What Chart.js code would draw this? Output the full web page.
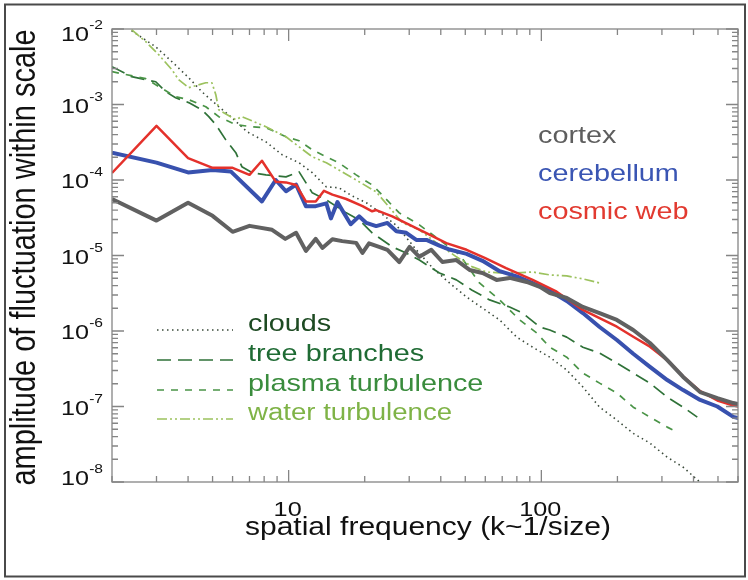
<!DOCTYPE html>
<html><head><meta charset="utf-8">
<script src="https://cdn.jsdelivr.net/npm/chart.js@4/dist/chart.umd.min.js"></script>
<style>html,body{margin:0;padding:0;background:#fff}canvas{display:block}</style>
</head><body>
<canvas id="c" width="748" height="580"></canvas>
<script>
// ---- data (spatial frequency k, amplitude) ----
const kCortex = [2, 3, 4, 5, 6, 7, 8.6, 9.7, 10.7, 11.7, 12.8, 13.6, 14.9, 16.3, 18.5, 19.6, 20.8, 22.8, 24.6, 27.4, 30.1, 32.9, 36.7, 40.6, 46.1, 52, 58.5, 66.5, 74.9, 87.5, 98.6, 108, 126, 146, 170, 199, 231, 269, 315, 364, 425, 497, 575, 602];
const aCortex = [5.6e-5, 2.9e-5, 5.0e-5, 3.35e-5, 2.06e-5, 2.47e-5, 2.19e-5, 1.66e-5, 2.0e-5, 1.15e-5, 1.66e-5, 1.26e-5, 1.64e-5, 1.55e-5, 1.47e-5, 1.08e-5, 1.45e-5, 1.3e-5, 1.19e-5, 8.2e-6, 1.3e-5, 9.6e-6, 1.19e-5, 8.2e-6, 8.7e-6, 6.44e-6, 5.87e-6, 4.75e-6, 5.05e-6, 4.46e-6, 3.84e-6, 3.19e-6, 2.74e-6, 2.08e-6, 1.73e-6, 1.4e-6, 1.03e-6, 6.93e-7, 4.12e-7, 2.46e-7, 1.55e-7, 1.29e-7, 1.11e-7, 1.08e-7];

const kCerebellum = [2, 3, 4, 5, 5.9, 7.84, 8.89, 9.76, 10.7, 11.7, 12.8, 14.1, 14.7, 15.6, 16.5, 17.6, 19, 20.3, 22.2, 24.6, 26.7, 29.2, 32, 35.1, 39.5, 43.3, 50.6, 58.5, 68.4, 79.9, 92.4, 108, 126, 146, 170, 199, 231, 269, 315, 364, 425, 497, 575, 602];
const aCerebellum = [2.3e-4, 1.7e-4, 1.26e-4, 1.36e-4, 1.3e-4, 5.2e-5, 1.0e-4, 7.1e-5, 8.7e-5, 4.5e-5, 4.5e-5, 4.9e-5, 3.1e-5, 5.1e-5, 3.7e-5, 2.6e-5, 3.3e-5, 2.7e-5, 2.45e-5, 2.7e-5, 2.1e-5, 2.0e-5, 1.61e-5, 1.61e-5, 1.35e-5, 1.2e-5, 1.05e-5, 8.5e-6, 6.2e-6, 5.3e-6, 4.3e-6, 3.4e-6, 2.5e-6, 1.73e-6, 1.13e-6, 7.6e-7, 5.0e-7, 3.35e-7, 2.24e-7, 1.65e-7, 1.22e-7, 1.0e-7, 7.3e-8, 7.0e-8];

const kCosmic = [2, 3, 4, 5, 6, 7, 7.84, 8.89, 9.76, 10.7, 11.7, 12.8, 13.8, 14.9, 16.9, 19.6, 21.4, 22.2, 25.7, 30.1, 35.1, 42.1, 50.6, 60, 72.5, 92.4, 115, 146, 170, 199, 231, 269, 315, 364, 425, 497, 575, 602];
const aCosmic = [1.24e-4, 5.2e-4, 1.95e-4, 1.45e-4, 1.45e-4, 1.17e-4, 1.8e-4, 9.5e-5, 9.3e-5, 8.6e-5, 5.2e-5, 5.2e-5, 7.2e-5, 6.4e-5, 5.6e-5, 4.5e-5, 3.85e-5, 4.0e-5, 3.3e-5, 2.55e-5, 1.98e-5, 1.46e-5, 1.19e-5, 9.2e-6, 6.8e-6, 4.75e-6, 3.32e-6, 1.9e-6, 1.48e-6, 1.14e-6, 8.4e-7, 6.2e-7, 4.1e-7, 2.5e-7, 1.6e-7, 1.2e-7, 1.03e-7, 1.0e-7];

const kClouds = [2.39, 2.98, 3.45, 4.02, 4.53, 5.29, 5.96, 6.84, 8.13, 9.42, 11.0, 12.4, 14.1, 15.8, 17.8, 20.3, 22.8, 26.7, 32.0, 37.1, 43.3, 50.6, 58.5, 68.4, 79.9, 92.4, 108, 126, 146, 170, 199, 231, 269, 315, 364, 425, 497];
const aClouds = [9.5e-3, 5.8e-3, 3.7e-3, 2.27e-3, 1.48e-3, 9.35e-4, 6.7e-4, 4.36e-4, 3.2e-4, 2.16e-4, 1.69e-4, 1.25e-4, 8.1e-5, 7.9e-5, 6.17e-5, 5.0e-5, 3.79e-5, 2.5e-5, 1.19e-5, 6.86e-6, 4.33e-6, 2.82e-6, 2.01e-6, 1.4e-6, 8.3e-7, 6.1e-7, 4.5e-7, 3.04e-7, 1.81e-7, 9.8e-8, 6.6e-8, 4.4e-8, 3.27e-8, 2.13e-8, 1.57e-8, 9.9e-9, 6.7e-9];

const kTree = [2, 2.39, 2.72, 2.98, 3.26, 3.57, 4.02, 4.53, 4.83, 5.15, 5.64, 6.18, 6.53, 7.16, 8.13, 9.76, 11.0, 12.4, 14.1, 16.9, 19.0, 21.4, 25.7, 29.2, 32.9, 39.5, 46.1, 53, 62.4, 74.9, 84.3, 98.6, 108, 126, 146, 170, 199, 231, 269, 315, 364, 414];
const aTree = [3.17e-3, 2.34e-3, 2.13e-3, 2.0e-3, 1.48e-3, 1.23e-3, 1.06e-3, 8.5e-4, 6.9e-4, 5.4e-4, 3.4e-4, 2.3e-4, 1.5e-4, 1.25e-4, 1.17e-4, 1.1e-4, 1.28e-4, 6.76e-5, 5.46e-5, 3.67e-5, 2.97e-5, 2.0e-5, 1.3e-5, 1.08e-5, 8.7e-6, 5.87e-6, 4.75e-6, 3.5e-6, 2.58e-6, 2.08e-6, 1.73e-6, 1.13e-6, 1.03e-6, 8.3e-7, 6.1e-7, 5.1e-7, 3.76e-7, 2.77e-7, 2.04e-7, 1.33e-7, 9.8e-8, 7.24e-8];

const kPlasma = [2, 2.72, 3.57, 4.02, 4.70, 5.29, 6.18, 7.16, 8.13, 9.76, 11.0, 12.4, 14.1, 15.8, 18.5, 21.4, 22.8, 27.4, 32.9, 39.5, 47.5, 56.9, 68.4, 82.1, 95.9, 108, 126, 146, 170, 199, 231, 269, 315, 345];
const aPlasma = [2.72e-3, 2.2e-3, 1.27e-3, 1.16e-3, 9.35e-4, 6.9e-4, 5.4e-4, 5.08e-4, 4.93e-4, 3.74e-4, 3.31e-4, 2.51e-4, 2.03e-4, 1.69e-4, 1.17e-4, 8.6e-5, 6.98e-5, 3.67e-5, 2.55e-5, 1.61e-5, 1.02e-5, 4.33e-6, 2.58e-6, 1.4e-6, 9.4e-7, 6.1e-7, 4.5e-7, 2.77e-7, 2.04e-7, 1.51e-7, 9.8e-8, 7.24e-8, 5.33e-8, 4.58e-8];

const kWater = [2.39, 2.72, 3.06, 3.45, 3.67, 4.02, 4.70, 4.97, 5.15, 5.29, 6.18, 6.53, 8.13, 9.76, 11.0, 12.4, 14.1, 15.8, 19.0, 22.2, 28.2, 32.9, 37.1, 42.1, 46.1, 53.4, 60.7, 68.4, 79.9, 92.4, 108, 126, 146, 170];
const aWater = [9.8e-3, 6.8e-3, 4.57e-3, 2.9e-3, 2.13e-3, 1.67e-3, 1.94e-3, 1.94e-3, 1.35e-3, 8.5e-4, 6.3e-4, 6.9e-4, 5.08e-4, 3.74e-4, 2.75e-4, 2.03e-4, 1.69e-4, 1.36e-4, 9.46e-5, 6.98e-5, 2.71e-5, 2.19e-5, 1.61e-5, 1.19e-5, 9.6e-6, 7.06e-6, 6.05e-6, 5.87e-6, 5.87e-6, 6.05e-6, 5.53e-6, 5.36e-6, 4.9e-6, 4.33e-6];

const xRange = [2, 600];
const yRange = [1e-8, 1e-2];
const xTickValues = [10, 100];
const xTickLabels = ['10', '100'];
const yTickPowers = [-8, -7, -6, -5, -4, -3, -2];
const xTitle = 'spatial frequency (k~1/size)';
const yTitle = 'amplitude of fluctuation within scale';
const topLegend = ['cortex', 'cerebellum', 'cosmic web'];
const bottomLegend = ['clouds', 'tree branches', 'plasma turbulence', 'water turbulence'];

// ---- styles ----
const FONT = '"Liberation Sans", Arial, Helvetica, sans-serif';
const SX = 1.2;
const C = {
  cortex: '#616161', cerebellum: '#3851ae', cosmic: '#e4312b',
  clouds: '#3a4a3a', tree: '#2f7238', plasma: '#4a9447', water: '#9cc25e'
};
const topLegendColors = ['#5e5e5e', '#3a55b3', '#e23a30'];
const bottomTextColors = ['#1d4a22', '#1f6b34', '#3a8c3d', '#7fb347'];
const bottomLineStyles = [
  {c: C.clouds, d: [1.5, 3.5]}, {c: C.tree, d: [14, 7]}, {c: C.plasma, d: [7, 7]}, {c: C.water, d: [10, 3, 2, 3, 2, 3]}
];

const pts = (k, a) => k.map((v, i) => ({x: v, y: a[i]}));
const ds = (label, k, a, color, width, dash, order) => ({
  label, data: pts(k, a), borderColor: color, borderWidth: width, borderDash: dash || [],
  pointRadius: 0, tension: 0, fill: false, order, clip: 0, borderCapStyle: 'butt', borderJoinStyle: 'round'
});

function txt(ctx, s, x, y, size, color, align) {
  ctx.save();
  ctx.font = size + 'px ' + FONT;
  const w = ctx.measureText(s).width * SX;
  let x0 = x;
  if (align === 'center') x0 = x - w / 2; else if (align === 'right') x0 = x - w;
  ctx.fillStyle = color; ctx.textAlign = 'left'; ctx.textBaseline = 'alphabetic';
  ctx.translate(x0, y); ctx.scale(SX, 1);
  ctx.fillText(s, 0, 0);
  ctx.restore();
  return w;
}

const decor = {
  id: 'decor',
  beforeDraw(chart) {
    const ctx = chart.ctx; ctx.save(); ctx.fillStyle = '#fff'; ctx.fillRect(0, 0, chart.width, chart.height); ctx.restore();
  },
  afterDatasetsDraw(chart) {
    const {ctx, chartArea: a, scales: {x, y}} = chart;
    ctx.save();
    ctx.strokeStyle = '#858585'; ctx.lineWidth = 1.3; ctx.setLineDash([]);
    ctx.strokeRect(a.left, a.top, a.right - a.left, a.bottom - a.top);
    ctx.beginPath();
    for (let d = 0; d <= 2; d++) for (let m = 1; m <= 9; m++) {
      const v = m * Math.pow(10, d); if (v < xRange[0] || v > xRange[1]) continue;
      const px = x.getPixelForValue(v); const L = m === 1 ? 12 : 6;
      ctx.moveTo(px, a.bottom); ctx.lineTo(px, a.bottom - L);
      ctx.moveTo(px, a.top); ctx.lineTo(px, a.top + L);
    }
    for (let p = -8; p <= -2; p++) for (let m = 1; m <= 9; m++) {
      const v = m * Math.pow(10, p); if (v < yRange[0] * 0.999 || v > yRange[1] * 1.001) continue;
      const py = y.getPixelForValue(v); const L = m === 1 ? 12 : 6;
      ctx.moveTo(a.left, py); ctx.lineTo(a.left + L, py);
      ctx.moveTo(a.right, py); ctx.lineTo(a.right - L, py);
    }
    ctx.stroke();
    ctx.restore();
  },
  afterDraw(chart) {
    const {ctx, chartArea: a, scales: {x, y}} = chart;
    // outer frame
    ctx.save(); ctx.strokeStyle = '#4a4a4a'; ctx.lineWidth = 2; ctx.setLineDash([]);
    ctx.strokeRect(5, 4.5, 740, 572); ctx.restore();
    // y tick labels 10^p
    yTickPowers.forEach((p) => {
      const py = y.getPixelForValue(Math.pow(10, p));
      const nudge = p === yTickPowers[yTickPowers.length - 1] ? 4 : (p === yTickPowers[0] ? -5 : 0);
      const sup = '-' + Math.abs(p);
      ctx.save(); ctx.font = '13px ' + FONT; const sw = ctx.measureText(sup).width * SX; ctx.restore();
      const right = a.left - 9;
      txt(ctx, sup, right - sw, py + nudge - 4, 13, '#111', 'left');
      txt(ctx, '10', right - sw, py + nudge + 8, 21, '#111', 'right');
    });
    // x tick labels
    xTickValues.forEach((v, i) => {
      txt(ctx, xTickLabels[i], x.getPixelForValue(v) - 1, 516, 21, '#111', 'center');
    });
    // axis titles
    txt(ctx, xTitle, (a.left + a.right) / 2 + 3, 535, 25, '#111', 'center');
    ctx.save();
    ctx.font = '29px ' + FONT; ctx.fillStyle = '#111'; ctx.textAlign = 'center'; ctx.textBaseline = 'alphabetic';
    ctx.translate(35, (a.top + a.bottom) / 2 + 2); ctx.rotate(-Math.PI / 2); ctx.scale(1, SX);
    ctx.fillText(yTitle, 0, 0);
    ctx.restore();
    // top-right legend
    const tb = [143, 181, 219];
    topLegend.forEach((s, i) => txt(ctx, s, 538, tb[i], 24, topLegendColors[i], 'left'));
    // bottom-left legend
    const bb = [331, 361, 391, 420];
    bottomLegend.forEach((s, i) => {
      ctx.save();
      ctx.strokeStyle = bottomLineStyles[i].c; ctx.lineWidth = 1.6; ctx.setLineDash(bottomLineStyles[i].d);
      ctx.beginPath(); ctx.moveTo(157, bb[i] - 1); ctx.lineTo(233, bb[i] - 1); ctx.stroke();
      ctx.restore();
      txt(ctx, s, 248, bb[i], i === 3 ? 23 : 24, bottomTextColors[i], 'left');
    });
  }
};

new Chart(document.getElementById('c'), {
  type: 'line',
  data: {
    datasets: [
      ds('clouds', kClouds, aClouds, C.clouds, 1.6, [1.5, 3.5], 7),
      ds('tree branches', kTree, aTree, C.tree, 1.7, [14, 7], 6),
      ds('plasma turbulence', kPlasma, aPlasma, C.plasma, 1.7, [7, 7], 5),
      ds('water turbulence', kWater, aWater, C.water, 1.7, [10, 3, 2, 3, 2, 3], 4),
      ds('cerebellum', kCerebellum, aCerebellum, C.cerebellum, 4, null, 3),
      ds('cosmic web', kCosmic, aCosmic, C.cosmic, 2.5, null, 2),
      ds('cortex', kCortex, aCortex, C.cortex, 4, null, 1)
    ]
  },
  options: {
    responsive: false, animation: false, devicePixelRatio: 1,
    layout: {padding: {left: 112, top: 29, right: 10, bottom: 98}},
    plugins: {legend: {display: false}, tooltip: {enabled: false}, title: {display: false}},
    scales: {
      x: {type: 'logarithmic', min: xRange[0], max: xRange[1], grid: {display: false}, border: {display: false},
          ticks: {display: false}, title: {display: false}, afterFit: s => { s.height = 0; }},
      y: {type: 'logarithmic', min: yRange[0], max: yRange[1], grid: {display: false}, border: {display: false},
          ticks: {display: false}, title: {display: false}, afterFit: s => { s.width = 0; }}
    }
  },
  plugins: [decor]
});
</script>
</body></html>
